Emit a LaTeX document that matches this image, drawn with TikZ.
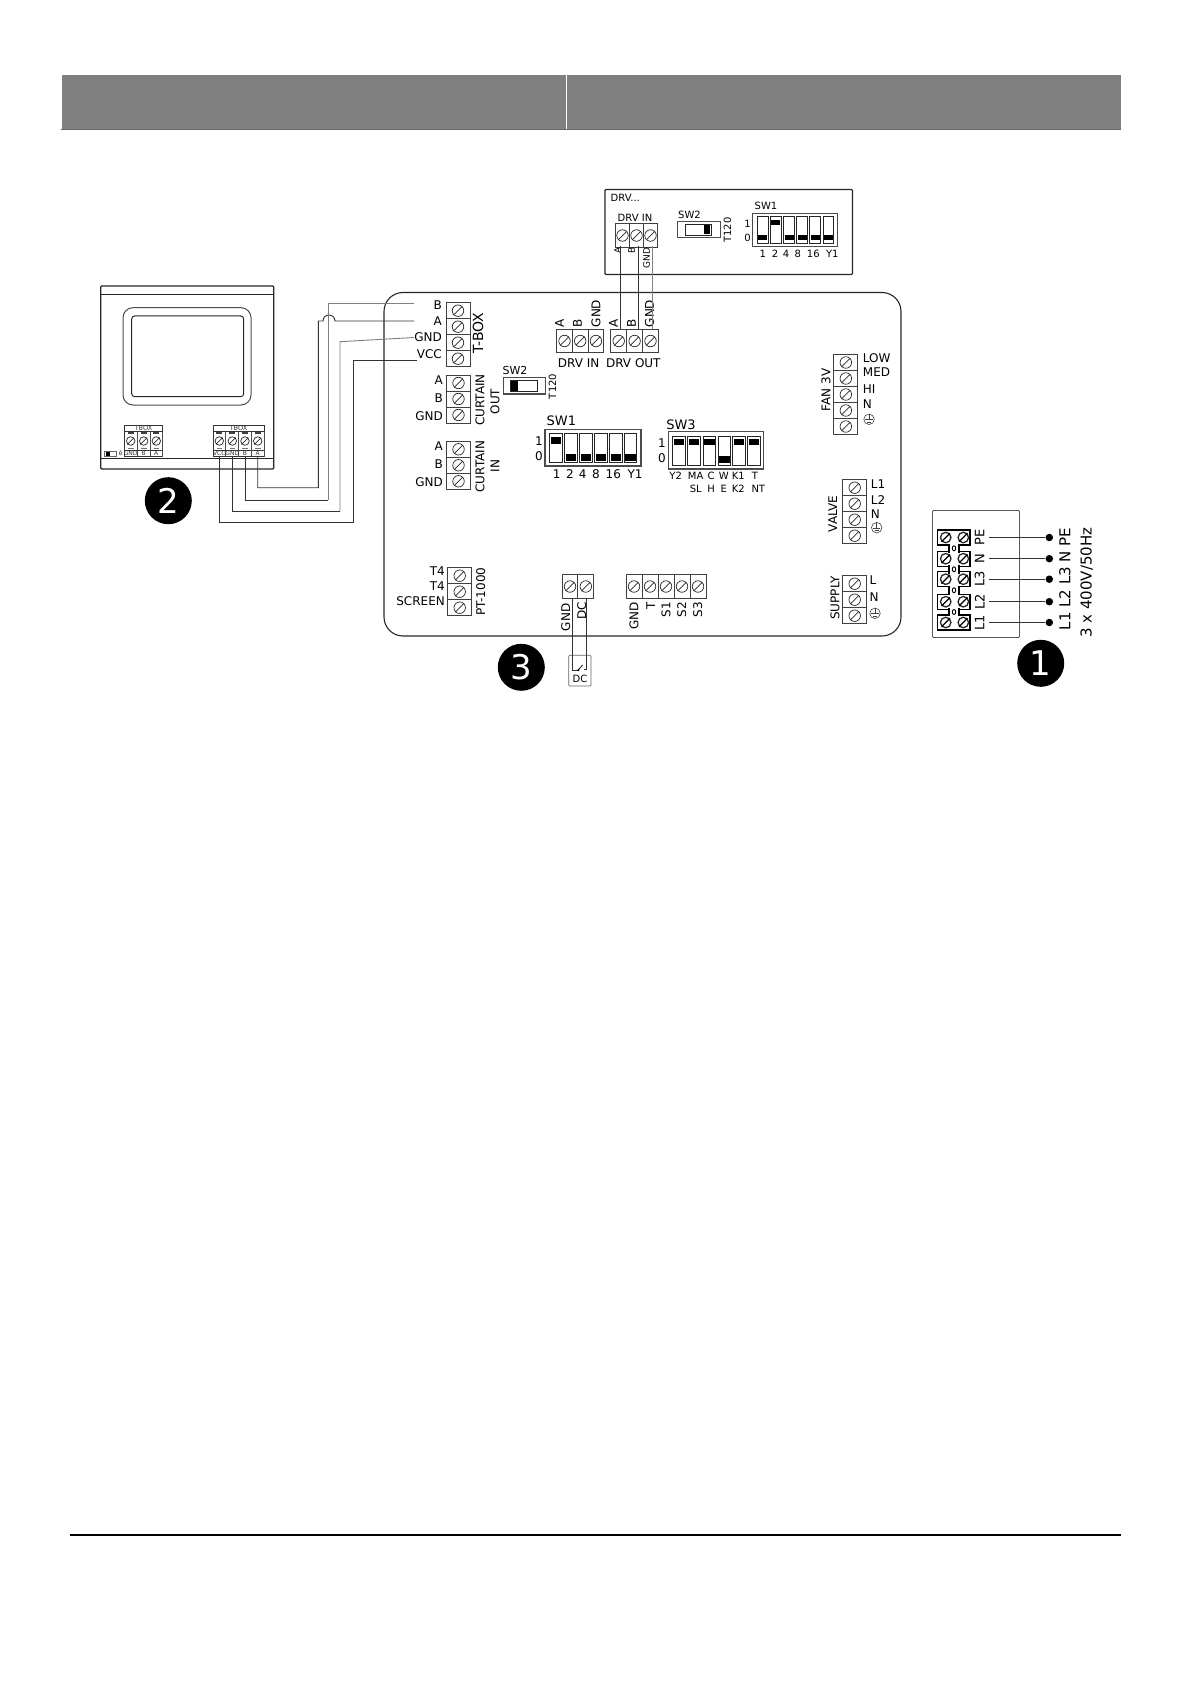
\documentclass[tikz,border=0pt]{standalone}
\usepackage{fontspec}
\setmainfont{DejaVu Sans}
\usetikzlibrary{positioning,shapes.geometric}

\tikzset{
  cell/.style={draw=black!75,line width=0.9pt,minimum width=#1,inner sep=0pt,outer sep=0pt},
  cell/.default=24pt,
  screw/.style={draw=black!85,line width=0.7pt,circle,minimum size=11pt,inner sep=0pt},
  lbl/.style={font=\fontsize{12}{12}\selectfont,inner sep=0pt},
  lblr/.style={lbl,rotate=90},
  small/.style={font=\fontsize{10}{10}\selectfont,inner sep=0pt},
  smallr/.style={small,rotate=90},
  tiny/.style={font=\fontsize{6.5}{6.5}\selectfont,inner sep=0pt,black!80},
  wire/.style={line width=0.9pt,draw=black!80},
  wiregray/.style={line width=0.9pt,draw=black!50},
  dip/.style={draw=black!70,line width=1.1pt},
  lever/.style={draw=black!85,line width=0.8pt,fill=white},
  knob/.style={fill=black},
  badge/.style={circle,fill=black,text=white,minimum size=47pt,inner sep=0pt,font=\fontsize{34}{34}\selectfont},
  dot/.style={circle,fill=black,minimum size=7.5pt,inner sep=0pt}
}

% #1 name, #2 x, #3 y of first screw, #4 number of cells
\newcommand{\vblock}[4]{
  \foreach \i in {1,...,#4}{
    \node[cell=24pt,minimum height=16pt] (#1\i) at (#2,#3+16*\i-16) {};
    \node[screw,minimum size=11.5pt] (#1s\i) at (#1\i) {};
    \draw[line width=0.7pt,black!85] (#1s\i.south west) -- (#1s\i.north east);
  }
}
% #1 name, #2 x of first screw, #3 y, #4 number of cells, #5 pitch
\newcommand{\hblock}[5]{
  \foreach \i in {1,...,#4}{
    \node[cell=#5pt,minimum height=23.5pt] (#1\i) at (#2+#5*\i-#5,#3) {};
    \node[screw,minimum size=11.5pt] (#1s\i) at (#1\i) {};
    \draw[line width=0.7pt,black!85] (#1s\i.south west) -- (#1s\i.north east);
  }
}
% #1 name, #2 x, #3 y
\newcommand{\earthmark}[3]{
  \node[screw,minimum size=10.5pt,line width=0.6pt,draw=black!75] (#1) at (#2,#3) {};
  \draw[line width=0.6pt,black!75] (#1.north) -- (#2,#3+0.5);
  \draw[line width=0.8pt,black!75] (#2-3.6,#3+0.5) -- (#2+3.6,#3+0.5);
  \draw[line width=0.6pt,black!75] (#2-2,#3+2.6) -- (#2+2,#3+2.6);
}

\begin{document}
\begin{tikzpicture}[x=1pt,y=-1pt]
  \useasboundingbox (0,0) rectangle (1192,1685);

  % page header and footer
  \fill[black!50] (61.5,75) rectangle (1120.5,129.5);
  \draw[white,line width=0.7pt] (566,75) -- (566,129);
  \draw[black!60,line width=1pt] (60.5,129.7) -- (1121,129.7);
  \draw[black,line width=1.2pt] (69.5,1535) -- (1120.5,1535);

  % board
  \draw[line width=1.1pt,black!85,rounded corners=19pt] (384,292.5) rectangle (901,636);

  % top drive box
  \draw[line width=1.1pt,black!85,rounded corners=1pt] (605,189.5) rectangle (852.5,274.5);
  \node[small,anchor=west] (drvbox) at (610.5,197.5) {DRV...};
  \hblock{dtop}{622.5}{235.5}{3}{14}
  \node[small] (dtopname) at (635,217.5) {DRV IN};
  \node[lblr,anchor=east,font=\fontsize{9}{9}\selectfont] (dtopA) at (617.5,247.5) {A};
  \node[lblr,anchor=east,font=\fontsize{9}{9}\selectfont] (dtopB) at (631.5,247.5) {B};
  \node[lblr,anchor=east,font=\fontsize{9}{9}\selectfont] (dtopG) at (646.5,247.5) {GND};

  % top SW2
  \node[small] (tsw2) at (689.5,214.5) {SW2};
  \node[smallr] (tt120) at (727.5,230) {T120};
  \draw[dip] (677.5,221.5) rectangle (720.5,237.5);
  \draw[lever] (685.5,224.5) rectangle (711.5,235);
  \fill[knob] (703.5,225) rectangle (710,234.5);

  % top SW1
  \node[small] (tsw1) at (766,206) {SW1};
  \draw[dip] (752.5,213.5) rectangle (837.5,246.5);
  \node[small] (tone) at (747.5,223.5) {1};
  \node[small] (tzero) at (747.5,237.5) {0};
  \foreach \n/\xx/\yy/\lab/\lx in {1/762.7/235/1/762.7,2/775.8/220/2/775,3/789/235/4/786,4/802/235/8/797.7,5/815/235/16/813.3,6/828.3/235/Y1/832.3}{
    \draw[lever] (\xx-5.3,216) rectangle (\xx+5.3,243.3);
    \fill[knob] (\xx-4.5,\yy) rectangle (\xx+4.5,\yy+5.5);
    \node[small] (tl\n) at (\lx,253.5) {\lab};
  }

  % T-BOX
  \vblock{tb}{458}{310.7}{4}
  \node[lbl,anchor=east] (lB) at (442,305) {B};
  \node[lbl,anchor=east] (lA) at (442,321.5) {A};
  \node[lbl,anchor=east] (lG) at (442,337.5) {GND};
  \node[lbl,anchor=east] (lV) at (442,354) {VCC};
  \node[lblr,font=\fontsize{14}{14}\selectfont] (ltb) at (478,333) {T-BOX};

  % curtain out
  \vblock{co}{458.5}{383}{3}
  \node[lbl,anchor=east] (coA) at (443,380) {A};
  \node[lbl,anchor=east] (coB) at (443,398) {B};
  \node[lbl,anchor=east] (coG) at (443,416) {GND};
  \node[lblr] (coname) at (480,400) {CURTAIN};
  \node[lblr] (coout) at (495,401.5) {OUT};

  % curtain in
  \vblock{ci}{458.5}{449.3}{3}
  \node[lbl,anchor=east] (ciA) at (443,446) {A};
  \node[lbl,anchor=east] (ciB) at (443,464) {B};
  \node[lbl,anchor=east] (ciG) at (443,482.5) {GND};
  \node[lblr] (ciname) at (480,466.5) {CURTAIN};
  \node[lblr] (ciin) at (495,466) {IN};

  % board SW2
  \node[small,font=\fontsize{11}{11}\selectfont] (bsw2) at (515,370) {SW2};
  \node[smallr] (bt120) at (552.5,386.5) {T120};
  \draw[dip] (503.5,377.5) rectangle (545.5,394);
  \draw[lever] (510,380.7) rectangle (537.5,391.3);
  \fill[knob] (510.7,381.2) rectangle (518.3,390.8);

  % DRV IN and DRV OUT
  \hblock{di}{564.5}{341}{3}{15.7}
  \node[lblr,anchor=west] (diA) at (559.5,327.5) {A};
  \node[lblr,anchor=west] (diB) at (577.5,327.5) {B};
  \node[lblr,anchor=west] (diG) at (596,327.5) {GND};
  \node[lbl] (diname) at (578.7,363) {DRV IN};
  \hblock{dq}{618.7}{341}{3}{15.9}
  \node[lblr,anchor=west] (dqA) at (613.5,327.5) {A};
  \node[lblr,anchor=west] (dqB) at (631.5,327.5) {B};
  \node[lblr,anchor=west] (dqG) at (649.5,327.5) {GND};
  \node[lbl] (dqname) at (633.3,363) {DRV OUT};

  \coordinate (wa1) at (620.7,245.7);
  \coordinate (wa2) at (620.7,329.3);
  \coordinate (wb1) at (638.3,245.7);
  \coordinate (wb2) at (638.3,329.3);
  \coordinate (wg1) at (652.3,245.7);
  \coordinate (wg2) at (652.3,329.3);
  \draw[wire] (wa1) -- (wa2);
  \draw[wire] (wb1) -- (wb2);
  \draw[wiregray,line width=0.6pt] (wg1) -- (wg2);

  % board SW1
  \node[lbl,font=\fontsize{13}{13}\selectfont,anchor=west] (bsw1) at (546.5,420.5) {SW1};
  \draw[dip] (545,429.5) rectangle (641,466);
  \node[lbl] (bone) at (539,441) {1};
  \node[lbl] (bzero) at (539,456.5) {0};
  \foreach \n/\xx/\yy/\lab/\lx in {1/556/437/1/556.7,2/571/454/2/570,3/586/454/4/582.7,4/601/454/8/596,5/615.7/454/16/613.3,6/630.3/454/Y1/635}{
    \draw[lever] (\xx-6.3,433.3) rectangle (\xx+6.3,462.7);
    \fill[knob] (\xx-5.2,\yy) rectangle (\xx+5.2,\yy+7);
    \node[lbl] (bl\n) at (\lx,474) {\lab};
  }

  % board SW3
  \node[lbl,font=\fontsize{13}{13}\selectfont] (bsw3) at (681,425) {SW3};
  \draw[dip] (668.5,431.7) rectangle (763.5,469);
  \node[lbl] (cone) at (662,443.5) {1};
  \node[lbl] (czero) at (662,458.5) {0};
  \foreach \n/\xx/\yy/\lab/\lx/\laa/\llx in {1/679/438.5/Y2/675.7//695.7,2/694/438.5/MA/695.7/SL/695.7,3/709.3/438.5/C/711/H/711,4/724.3/456/W/723.7/E/723.7,5/739/438.5/K1/738.3/K2/738.3,6/754/438.5/T/755/NT/758.3}{
    \draw[lever] (\xx-6.3,436) rectangle (\xx+6.3,465.3);
    \fill[knob] (\xx-5.2,\yy) rectangle (\xx+5.2,\yy+6.7);
    \node[small] (cl\n) at (\lx,475.7) {\lab};
    \node[small] (cm\n) at (\llx,489) {\laa};
  }

  % fan
  \vblock{fa}{845.8}{362.5}{5}
  \node[lbl,anchor=west] (faL) at (862.7,357.7) {LOW};
  \node[lbl,anchor=west] (faM) at (862.7,372.3) {MED};
  \node[lbl,anchor=west] (faH) at (862.7,389.3) {HI};
  \node[lbl,anchor=west] (faN) at (862.7,404.3) {N};
  \earthmark{faE}{869}{419.3}
  \node[lblr] (faname) at (826,390) {FAN 3V};

  % valve
  \vblock{va}{854.7}{487.7}{4}
  \node[lbl,anchor=west] (vaA) at (870.7,484) {L1};
  \node[lbl,anchor=west] (vaB) at (870.7,500) {L2};
  \node[lbl,anchor=west] (vaN) at (870.7,514) {N};
  \earthmark{vaE}{876.7}{527.7}
  \node[lblr] (vaname) at (832.7,514) {VALVE};

  % supply
  \vblock{su}{854.7}{583.7}{3}
  \node[lbl,anchor=west] (suL) at (869.3,580) {L};
  \node[lbl,anchor=west] (suN) at (869.3,596.7) {N};
  \earthmark{suE}{875}{613.3}
  \node[lblr] (suname) at (835,598) {SUPPLY};

  % PT-1000
  \vblock{pt}{459.7}{575.7}{3}
  \node[lbl,anchor=east] (ptA) at (445,570.7) {T4};
  \node[lbl,anchor=east] (ptB) at (445,586) {T4};
  \node[lbl,anchor=east] (ptC) at (445,601) {SCREEN};
  \node[lblr] (ptname) at (480.7,591.7) {PT-1000};

  % DC input and sensors
  \hblock{dc}{570}{586.5}{2}{15.8}
  \node[lblr,anchor=east] (dcG) at (565.7,603.5) {GND};
  \node[lblr,anchor=east] (dcD) at (581.7,601.7) {DC};
  \hblock{se}{634}{586.5}{5}{16}
  \node[lblr,anchor=east] (seG) at (634,602) {GND};
  \node[lblr,anchor=east] (seT) at (650.7,602) {T};
  \node[lblr,anchor=east] (seA) at (666,602) {S1};
  \node[lblr,anchor=east] (seB) at (681.7,602) {S2};
  \node[lblr,anchor=east] (seC) at (697.7,602) {S3};

  % dc contact
  \draw[black!60,line width=0.7pt,rounded corners=1pt] (568.7,655.3) rectangle (591,686);
  \node[small] (dcname) at (580,679.3) {DC};
  \coordinate (cl) at (572.7,598.3);
  \coordinate (cr) at (586.7,598.3);
  \draw[wire] (cl) -- (572.7,670) -- (577.5,670);
  \draw[wire] (cr) -- (586.7,669.5) -- (583.5,669.5);
  \fill (578.3,670) circle (1.3pt);
  \draw[line width=0.7pt] (578.3,670) -- (582.5,665);

  % mains block
  \draw[black!65,line width=0.9pt,rounded corners=1pt] (932.5,510.5) rectangle (1019.5,637.5);
  \foreach \n/\yy/\lab in {1/537.5/PE,2/558.7/N,3/579.2/L3,4/601.7/L2,5/622.5/L1}{
    \draw[line width=1.4pt] (937.5,\yy-7.5) rectangle (970,\yy+7.5);
    \node[screw,minimum size=10.5pt,line width=1.3pt] (ms\n) at (945.7,\yy) {};
    \node[screw,minimum size=10.5pt,line width=1.3pt] (mt\n) at (963.3,\yy) {};
    \draw[line width=1.2pt] (ms\n.south west) -- (ms\n.north east);
    \draw[line width=1.2pt] (mt\n.south west) -- (mt\n.north east);
    \node[lblr,font=\fontsize{13}{13}\selectfont] (ml\n) at (979.7,\yy) {\lab};
    \node[dot] (md\n) at (1049.3,\yy) {};
    \coordinate (mw\n) at (989.3,\yy);
    \draw[wire] (mw\n) -- (md\n);
  }
  \foreach \n/\yy in {1/548.3,2/569.3,3/590.3,4/612}{
    \fill[white] (949.6,\yy-4.2) rectangle (958.4,\yy+4.2);
    \draw[line width=1.1pt] (949,\yy-4.2) -- (949,\yy+4.2) (959,\yy-4.2) -- (959,\yy+4.2);
    \node[draw,ellipse,line width=0.9pt,minimum width=3.5pt,minimum height=5pt,inner sep=0pt] (mo\n) at (954,\yy) {};
  }
  \node[lblr,font=\fontsize{15}{15}\selectfont] (mlines) at (1065,579) {L1 L2 L3 N PE};
  \node[lblr,font=\fontsize{15}{15}\selectfont] (mvolt) at (1086.7,582.7) {3 x 400V/50Hz};

  % room unit
  \draw[line width=1.3pt,black!85,rounded corners=1pt] (100.7,286) rectangle (273.7,469);
  \draw[line width=0.9pt,black!85] (100.7,294.7) -- (273.7,294.7);
  \draw[line width=0.9pt,black!85] (100.7,458) -- (273.7,458);
  \draw[line width=1pt,black!70,rounded corners=10pt] (123,307.7) rectangle (251,405);
  \draw[line width=1pt,black!85,rounded corners=3pt] (131.7,316) rectangle (243.7,396.7);

  % room unit terminals, left block
  \draw[line width=0.6pt,black!80] (124.3,425) rectangle (162.7,456.7);
  \draw[line width=0.6pt,black!80] (124.3,431.7) -- (162.7,431.7) (124.3,450) -- (162.7,450);
  \node[tiny] (ubox) at (143.5,428.3) {TBOX};
  \foreach \n/\xx/\lab in {1/130.7/GND,2/143.7/B,3/156.3/A}{
    \node[screw,minimum size=8.5pt] (us\n) at (\xx,441) {};
    \draw[line width=0.6pt] (us\n.south west) -- (us\n.north east);
    \fill[black!75] (\xx-3,432.2) rectangle (\xx+3,434);
    \fill[black!55] (\xx-2.8,447.5) rectangle (\xx+2.8,449.3);
    \draw[line width=0.5pt,black!70] (\xx+6.4,431.7) -- (\xx+6.4,456.7);
    \node[tiny,font=\fontsize{6}{6}\selectfont] (ul\n) at (\xx,453.4) {\lab};
  }
  \draw[line width=0.5pt,black!60] (104,451) rectangle (116,456);
  \fill (105.5,451.5) rectangle (110,455.5);
  \node[tiny] (uswitch) at (120.5,453) {è};

  % room unit terminals, right block
  \draw[line width=0.6pt,black!80] (213.3,425) rectangle (264,456.7);
  \draw[line width=0.6pt,black!80] (213.3,431.7) -- (264,431.7) (213.3,450) -- (264,450);
  \node[tiny] (vbox) at (238.5,428.3) {TBOX};
  \foreach \n/\xx/\lab in {1/219.3/VCC,2/232.3/GND,3/245/B,4/257.7/A}{
    \node[screw,minimum size=8.5pt] (vs\n) at (\xx,441) {};
    \draw[line width=0.6pt] (vs\n.south west) -- (vs\n.north east);
    \fill[black!75] (\xx-3,432.2) rectangle (\xx+3,434);
    \fill[black!55] (\xx-2.8,447.5) rectangle (\xx+2.8,449.3);
    \draw[line width=0.5pt,black!70] (\xx+6.4,431.7) -- (\xx+6.4,456.7);
    \node[tiny,font=\fontsize{6}{6}\selectfont] (vl\n) at (\xx,453.4) {\lab};
  }

  % wires room unit to board
  \coordinate (eB) at (414,303.7);
  \coordinate (eA) at (414,321);
  \draw[wire] (vl4.south) -- (257.7,487.7) -- (318.3,487.7) -- (318.3,321) -- (323,321)
     arc[start angle=180,end angle=0,radius=6pt] -- (eA);
  \draw[wire] (vl3.south) -- (245,500) -- (328.3,500);
  \draw[wiregray] (328.3,500) -- (328.3,303.7) -- (eB);
  \draw[wiregray] (340,511) -- (340,341.7) -- (lG.west);
  \draw[wire] (vl2.south) -- (232.3,511) -- (340,511);
  \draw[wire] (vl1.south) -- (219.3,522.3) -- (353.3,522.3) -- (353.3,360) -- (lV.west |- 0,360);

  % numbered badges
  \node[badge] (n1) at (1040.7,663.3) {1};
  \node[badge] (n2) at (168.3,500.7) {2};
  \node[badge] (n3) at (521.3,667.3) {3};
\end{tikzpicture}
\end{document}
